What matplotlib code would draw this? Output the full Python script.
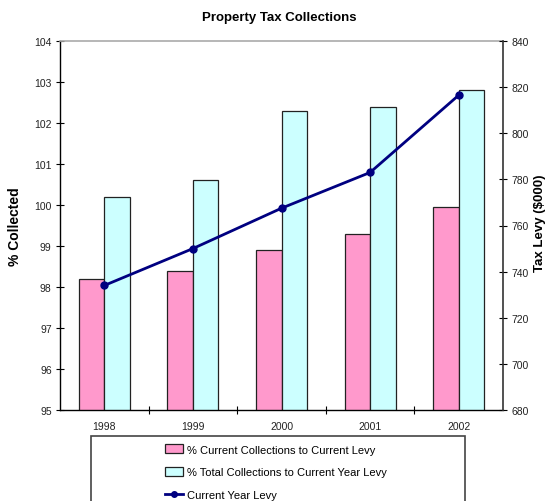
import matplotlib
matplotlib.use("Agg")
import matplotlib.pyplot as plt
import numpy as np
from matplotlib.patches import Rectangle
from matplotlib.lines import Line2D

years = ["1998", "1999", "2000", "2001", "2002"]
pct_current = [98.2, 98.4, 98.9, 99.3, 99.95]
pct_total = [100.2, 100.6, 102.3, 102.4, 102.8]
levy = [734, 750, 767.5, 783, 816.5]

left_ticks = [95, 96, 97, 98, 99, 100, 101, 102, 103, 104]
right_ticks = [680, 700, 720, 740, 760, 780, 800, 820, 840]

plt.rcParams['font.family'] = ['Liberation Sans', 'DejaVu Sans']

fig = plt.figure(figsize=(5.47, 5.02), dpi=100)
ax = fig.add_axes([60/547, 1-411/502, 443/547, 369/502])

x = np.arange(len(years))
w = 0.288
ax.bar(x - w/2, pct_current, width=w, bottom=0, color="#FF99CC",
       edgecolor="#222222", linewidth=0.9, zorder=2)
ax.bar(x + w/2, pct_total, width=w, bottom=0, color="#CCFFFF",
       edgecolor="#222222", linewidth=0.9, zorder=2)
ax.set_xlim(-0.5, 4.5)
ax.set_ylim(95, 104)
ax.set_yticks(left_ticks)
ax.set_yticklabels([str(t) for t in left_ticks], fontsize=7.5, color="#222222")
ax.set_xticks(np.arange(0.5, 4.5, 1.0))
ax.set_xticklabels([])
ax.set_xticks(x, minor=True)
ax.set_xticklabels(years, minor=True, fontsize=7.5, color="#222222")
ax.tick_params(axis='x', which='minor', length=0, pad=8)
ax.tick_params(axis='x', which='major', direction='inout', length=6, width=0.8)
ax.tick_params(axis='y', direction='inout', length=6, width=0.8, pad=3)
ax.set_ylabel("% Collected", fontsize=10, fontweight='bold')
ax.yaxis.set_label_coords((22-60)/443, 0.5)

for s in ['left', 'bottom']:
    ax.spines[s].set_color('black')
    ax.spines[s].set_linewidth(1.0)
ax.spines['top'].set_color('#aaaaaa')
ax.spines['top'].set_linewidth(1.2)
ax.spines['right'].set_visible(False)

ax2 = ax.twinx()
ax2.plot(x, levy, color="#000080", linewidth=2, marker='o', markersize=5,
         zorder=5)
ax2.set_ylim(680, 840)
ax2.set_yticks(right_ticks)
ax2.set_yticklabels([str(t) for t in right_ticks], fontsize=7.5, color="#222222")
ax2.tick_params(axis='y', direction='inout', length=6, width=0.8, pad=3)
ax2.set_ylabel("Tax Levy ($000)", fontsize=9.5, fontweight='bold', rotation=90)
ax2.yaxis.set_label_coords((534-60)/443, 0.51)
ax2.spines['right'].set_color('#333333')
ax2.spines['right'].set_linewidth(1.2)
for s in ['top', 'left', 'bottom']:
    ax2.spines[s].set_visible(False)

fig.text(279/547, 1-18/502, "Property Tax Collections", ha='center', va='center',
         fontsize=9.5, fontweight='bold')

# legend frame
fig.patches.append(Rectangle((91/547, -0.05), (465-91)/547, 1-437/502+0.05,
                             transform=fig.transFigure, facecolor='white',
                             edgecolor='#444444', linewidth=1.2))
handles = [Rectangle((0, 0), 1, 1, facecolor="#FF99CC", edgecolor="#222222", linewidth=0.9),
           Rectangle((0, 0), 1, 1, facecolor="#CCFFFF", edgecolor="#222222", linewidth=0.9),
           Line2D([], [], color="#000080", linewidth=2, marker='o', markersize=4)]
labels = ["% Current Collections to Current Levy",
          "% Total Collections to Current Year Levy",
          "Current Year Levy"]
fig.legend(handles, labels, loc='upper left', bbox_to_anchor=(161/547, 1-441/502),
           frameon=False, fontsize=8, handlelength=1.6, handleheight=0.8,
           handletextpad=0.3, labelspacing=1.15, borderaxespad=0)

fig.savefig("out.png", dpi=100)
